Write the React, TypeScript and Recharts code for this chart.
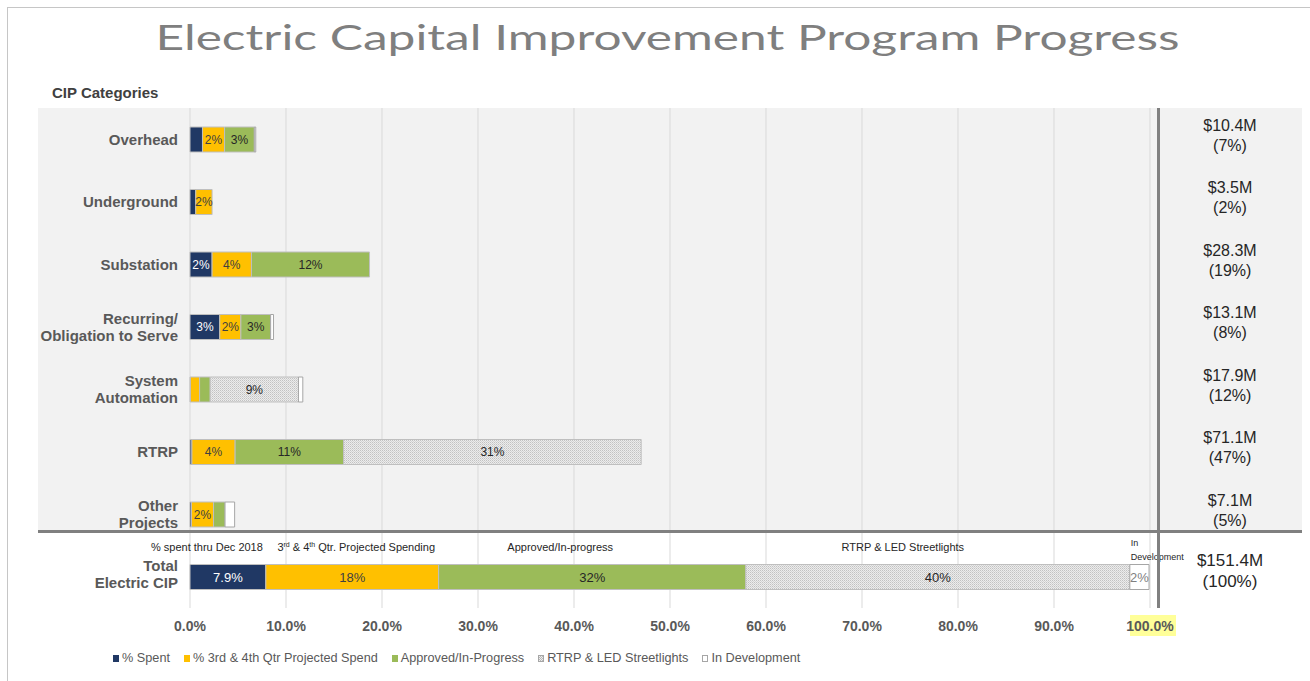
import React from 'react'
import { BarChart, Bar, XAxis, YAxis, CartesianGrid, LabelList } from 'recharts'

const categories = [
  'Overhead',
  'Underground',
  'Substation',
  'Recurring/\nObligation to Serve',
  'System\nAutomation',
  'RTRP',
  'Other\nProjects',
  'Total\nElectric CIP',
]

// share of the whole program, in percent
const spent = [1.3, 0.6, 2.3, 3.1, 0.05, 0.2, 0.15, 7.9]
const projected = [2.3, 1.7, 4.1, 2.2, 0.95, 4.5, 2.3, 18]
const approved = [3.1, 0, 12.3, 3.1, 1.1, 11.3, 1.2, 32]
const streetlights = [0, 0, 0, 0, 9.2, 31, 0, 40]
const inDevelopment = [0.15, 0, 0, 0.3, 0.45, 0, 1.0, 2]

const spentLabels = ['', '', '2%', '3%', '', '', '', '7.9%']
const projectedLabels = ['2%', '2%', '4%', '2%', '', '4%', '2%', '18%']
const approvedLabels = ['3%', '', '12%', '3%', '', '11%', '', '32%']
const streetlightLabels = ['', '', '', '', '9%', '31%', '', '40%']
const inDevelopmentLabels = ['', '', '', '', '', '', '', '2%']

const amounts = ['$10.4M', '$3.5M', '$28.3M', '$13.1M', '$17.9M', '$71.1M', '$7.1M', '$151.4M']
const shares = ['(7%)', '(2%)', '(19%)', '(8%)', '(12%)', '(47%)', '(5%)', '(100%)']

const totalNotes = [
  '% spent thru Dec 2018',
  '3rd & 4th Qtr. Projected Spending',
  'Approved/In-progress',
  'RTRP & LED Streetlights',
  'In Development',
]
const seriesNames = [
  '% Spent',
  '% 3rd & 4th Qtr Projected Spend',
  'Approved/In-Progress',
  'RTRP & LED Streetlights',
  'In Development',
]
const xTicks = [0, 10, 20, 30, 40, 50, 60, 70, 80, 90, 100]

const NAVY = '#203864'
const YELLOW = '#ffc000'
const GREEN = '#9bbb59'
const EDGE = '#bfbfbf'
const AXIS_TEXT = '#595959'
const SANS = '"Liberation Sans", Arial, sans-serif'
const W = 1310
const H = 681

const LAST = categories.length - 1
const keys = ['spent', 'projected', 'approved', 'streetlights', 'inDev']
const values = [spent, projected, approved, streetlights, inDevelopment]
const labels = [spentLabels, projectedLabels, approvedLabels, streetlightLabels, inDevelopmentLabels]

// the total row gets bigger in-bar text and a note above each segment
const data = categories.map((name, i) => {
  const row: Record<string, string | number> = { name }
  keys.forEach((k, s) => {
    row[k] = values[s][i]
    row[k + 'Lbl'] = i === LAST ? '' : labels[s][i]
    row[k + 'Big'] = i === LAST ? labels[s][i] : ''
    row[k + 'Note'] = i === LAST ? totalNotes[s] : ''
  })
  return row
})

const swatches = [NAVY, YELLOW, GREEN, '', '#ffffff']

function CategoryTick({ x, y, payload }: any) {
  const lines = String(payload.value).split('\n')
  const lh = 17
  const y0 = y - ((lines.length - 1) * lh) / 2 - (payload.index === LAST ? 3 : 0)
  return (
    <text textAnchor="end" fontSize={15} fontWeight="bold" fill={AXIS_TEXT} fontFamily={SANS}>
      {lines.map((l, k) => (
        <tspan key={k} x={x - 4} y={y0 + k * lh} dy="0.35em">
          {l}
        </tspan>
      ))}
    </text>
  )
}

function TotalTick({ x, y, payload }: any) {
  const i = payload.index
  const isTotal = i === LAST
  const size = isTotal ? 17 : 16
  const gap = isTotal ? 21 : 20
  const mid = y - (isTotal ? 6 : 4)
  return (
    <text textAnchor="middle" fontSize={size} fill="#262626" fontFamily={SANS}>
      <tspan x={x + 72} y={mid - gap / 2} dy="0.35em">{amounts[i]}</tspan>
      <tspan x={x + 72} y={mid + gap / 2} dy="0.35em">{shares[i]}</tspan>
    </text>
  )
}

function PctTick({ x, y, payload }: any) {
  const v = payload.value as number
  return (
    <g>
      {v === 100 && <rect x={x - 20} y={y - 1} width={46} height={21} fill="#ffff99" />}
      <text x={x} y={y + 10} dy="0.35em" textAnchor="middle" fontSize={14} fontWeight="bold" fill={AXIS_TEXT} fontFamily={SANS}>
        {v.toFixed(1)}%
      </text>
    </g>
  )
}

const inBar = (color: string, size: number) => (p: any) => {
  const { x, y, width, height, value } = p
  if (!value) return null
  return (
    <text
      x={x + width / 2}
      y={y + height / 2}
      dy="0.35em"
      textAnchor="middle"
      fontSize={size}
      fill={color}
      fontFamily={SANS}
    >
      {value}
    </text>
  )
}

function withSup(s: string) {
  const parts = s.split(/(?<=\d)(rd|th)(?=\s)/)
  return parts.map((part, k) =>
    k % 2 ? (
      <tspan key={k} dy={-4} fontSize={7}>
        {part}
      </tspan>
    ) : (
      <tspan key={k} dy={k ? 4 : 0}>
        {part}
      </tspan>
    )
  )
}

const noteLabel = (dx: number) => (p: any) => {
  const { x, y, width, value } = p
  if (!value) return null
  return (
    <text x={x + width / 2 + dx} y={y - 14} dy="0.35em" textAnchor="middle" fontSize={11} fill="#262626" fontFamily={SANS}>
      {withSup(String(value))}
    </text>
  )
}

const devNote = (p: any) => {
  const { x, y, value } = p
  if (!value) return null
  const [first, ...rest] = String(value).split(' ')
  return (
    <text fontSize={9} fill="#262626" fontFamily={SANS}>
      <tspan x={x + 1} y={y - 22} dy="0.35em">{first}</tspan>
      <tspan x={x + 1} y={y - 8} dy="0.35em">{rest.join(' ')}</tspan>
    </text>
  )
}

const barStyles = [
  { fill: NAVY, stroke: EDGE, text: '#ffffff', note: noteLabel(-21) },
  { fill: YELLOW, stroke: EDGE, text: '#404040', note: noteLabel(4) },
  { fill: GREEN, stroke: EDGE, text: '#262626', note: noteLabel(-32) },
  { fill: 'url(#dots)', stroke: EDGE, text: '#262626', note: noteLabel(-35) },
  { fill: '#ffffff', stroke: '#a6a6a6', text: '#7f7f7f', note: devNote },
]

export default function App() {
  return (
    <div style={{ position: 'absolute', left: 0, top: 0, width: W, height: H, overflow: 'hidden', background: '#fff', fontFamily: SANS }}>
      <div style={{ position: 'absolute', left: 7, top: 7, width: 1400, height: 800, border: '1px solid #c6c6c6' }} />
      <div style={{ position: 'absolute', left: 38, top: 108, width: 1264, height: 423, background: '#f2f2f2' }} />

      <svg width={W} height={70} style={{ position: 'absolute', left: 0, top: 0 }}>
        <text
          x={667.5}
          y={50}
          textAnchor="middle"
          fontSize={35}
          textLength={1024}
          lengthAdjust="spacingAndGlyphs"
          fill="#7f7f7f"
          fontFamily='Lato, "Open Sans", sans-serif'
          fontWeight={400}
        >
          Electric Capital Improvement Program Progress
        </text>
      </svg>
      <div style={{ position: 'absolute', left: 52, top: 85, fontSize: 15, lineHeight: '16px', fontWeight: 'bold', color: '#404040' }}>
        CIP Categories
      </div>

      <div style={{ position: 'absolute', left: 0, top: 0 }}>
        <BarChart
          width={W}
          height={H}
          data={data}
          layout="vertical"
          barSize={25}
          margin={{ top: 108, right: 8, bottom: 43, left: 38 }}
          style={{ fontFamily: SANS }}
        >
          <defs>
            <pattern id="dots" width={2} height={2} patternUnits="userSpaceOnUse">
              <rect width={2} height={2} fill="#ececec" />
              <rect width={1} height={1} fill="#c2c2c2" />
              <rect x={1} y={1} width={1} height={1} fill="#d4d4d4" />
            </pattern>
          </defs>
          <CartesianGrid horizontal={false} stroke="#d9d9d9" />
          <XAxis
            type="number"
            domain={[0, 100]}
            ticks={xTicks}
            height={30}
            axisLine={false}
            tickLine={false}
            tick={<PctTick />}
            interval={0}
          />
          <YAxis
            type="category"
            dataKey="name"
            width={152}
            axisLine={false}
            tickLine={false}
            tick={<CategoryTick />}
            interval={0}
          />
          <YAxis
            yAxisId="right"
            orientation="right"
            type="category"
            dataKey="name"
            width={152}
            axisLine={false}
            tickLine={false}
            tick={<TotalTick />}
            interval={0}
          />
          {keys.map((k, s) => (
            <Bar
              key={k}
              dataKey={k}
              stackId="a"
              fill={barStyles[s].fill}
              stroke={barStyles[s].stroke}
              isAnimationActive={false}
            >
              <LabelList dataKey={k + 'Lbl'} content={inBar(barStyles[s].text, 12)} />
              <LabelList dataKey={k + 'Big'} content={inBar(barStyles[s].text, 13)} />
              <LabelList dataKey={k + 'Note'} content={barStyles[s].note} />
            </Bar>
          ))}
        </BarChart>
      </div>

      <div style={{ position: 'absolute', left: 38, top: 530, width: 1264, height: 3, background: '#808080' }} />
      <div style={{ position: 'absolute', left: 1157, top: 108, width: 3, height: 500, background: '#808080' }} />

      <div
        style={{
          position: 'absolute',
          left: 113,
          top: 650,
          display: 'flex',
          gap: 14,
          fontSize: 12.7,
          lineHeight: '16px',
          color: AXIS_TEXT,
        }}
      >
        {seriesNames.map((n, i) => (
          <span key={n} style={{ display: 'flex', alignItems: 'center' }}>
            <span
              style={{
                width: 6,
                height: 7,
                marginRight: 3,
                boxSizing: 'border-box',
                background:
                  i === 3
                    ? 'repeating-conic-gradient(#b8b8b8 0 25%, #eeeeee 0 50%) 0 0/2px 2px'
                    : swatches[i],
                border: i >= 3 ? '1px solid #a6a6a6' : 'none',
              }}
            />
            {n}
          </span>
        ))}
      </div>
    </div>
  )
}
